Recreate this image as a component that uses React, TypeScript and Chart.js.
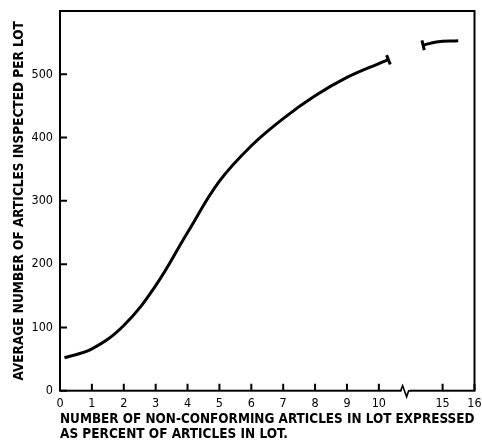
import { useEffect, useRef } from "react";
import { Chart, registerables } from "chart.js";

Chart.register(...registerables);

// Real x values (percent non-conforming) and y values (average articles inspected)
const lowerX = [0.14, 1, 2, 3, 4, 5, 6, 7, 8, 9, 10, 10.75];
const lowerY = [52, 66, 103, 166, 250, 331, 387, 430, 466, 495, 517, 523];
const upperX = [13.47, 14.5, 15.49];
const upperY = [546, 551, 553];

const xTickLabels = [0, 1, 2, 3, 4, 5, 6, 7, 8, 9, 10, 15, 16];
const yTickValues = [0, 100, 200, 300, 400, 500];
const yMax = 600;
const axisBreakAt = 12.1;

const yTitle = "AVERAGE NUMBER OF ARTICLES INSPECTED PER LOT";
const xTitle = ["NUMBER OF NON-CONFORMING ARTICLES IN LOT EXPRESSED", "AS PERCENT OF ARTICLES IN LOT."];

// broken axis: 10..15 compressed to 2 units
const toPos = (v: number) => (v <= 10 ? v : v <= 15 ? 10 + (v - 10) * 0.4 : v - 3);

const FONT = "'DejaVu Sans Condensed', 'DejaVu Sans', sans-serif";

const zeroPad = (s: any) => {
  s.paddingLeft = 0;
  s.paddingRight = 0;
  s.paddingTop = 0;
  s.paddingBottom = 0;
};

const decorations = {
  id: "decorations",
  afterDraw(chart: any) {
    const { ctx, chartArea: a, scales } = chart;
    const x = scales.x;
    const y = scales.y;
    ctx.save();
    ctx.strokeStyle = "#000";
    ctx.lineWidth = 2;
    ctx.lineCap = "butt";
    ctx.strokeRect(a.left, a.top, a.right - a.left, a.bottom - a.top);
    ctx.beginPath();
    x.ticks.forEach((t: any) => {
      const px = x.getPixelForValue(t.value);
      ctx.moveTo(px, a.bottom);
      ctx.lineTo(px, a.bottom - 7);
    });
    y.ticks.forEach((t: any) => {
      const py = y.getPixelForValue(t.value);
      ctx.moveTo(a.left, py);
      ctx.lineTo(a.left + 7, py);
    });
    ctx.stroke();

    // axis break
    const bx = x.getPixelForValue(toPos(axisBreakAt));
    ctx.fillStyle = "#fff";
    ctx.fillRect(bx - 4, a.bottom - 2, 8, 4);
    ctx.beginPath();
    ctx.moveTo(bx - 5, a.bottom);
    ctx.lineTo(bx - 3, a.bottom - 5);
    ctx.lineTo(bx + 1, a.bottom + 6);
    ctx.lineTo(bx + 3, a.bottom);
    ctx.lineTo(bx + 5, a.bottom);
    ctx.lineWidth = 1.6;
    ctx.lineJoin = "miter";
    ctx.stroke();

    // end caps on curve segments
    ctx.lineWidth = 3;
    chart.data.datasets.forEach((ds: any, i: number) => {
      const pts = chart.getDatasetMeta(i).data;
      const n = pts.length;
      const drawCap = (p: any, q: any) => {
        const dx = p.x - q.x;
        const dy = p.y - q.y;
        const len = Math.hypot(dx, dy) || 1;
        const nx = -dy / len;
        const ny = dx / len;
        ctx.beginPath();
        ctx.moveTo(p.x - nx * 5, p.y - ny * 5);
        ctx.lineTo(p.x + nx * 5, p.y + ny * 5);
        ctx.stroke();
      };
      if (ds.capAt === "end") drawCap(pts[n - 1], pts[n - 2]);
      if (ds.capAt === "start") drawCap(pts[0], pts[1]);
    });
    ctx.restore();
  },
};

export default function App() {
  const ref = useRef<HTMLCanvasElement>(null);
  useEffect(() => {
    document.body.style.margin = "0";
    const canvas = ref.current;
    if (!canvas) return;
    const chart = new Chart(canvas, {
      type: "line",
      data: {
        datasets: [
          {
            data: lowerX.map((v, i) => ({ x: toPos(v), y: lowerY[i] })),
            borderColor: "#000",
            borderWidth: 3,
            pointRadius: 0,
            tension: 0.4,
            capAt: "end",
          } as any,
          {
            data: upperX.map((v, i) => ({ x: toPos(v), y: upperY[i] })),
            borderColor: "#000",
            borderWidth: 3,
            pointRadius: 0,
            tension: 0.4,
            capAt: "start",
          } as any,
        ],
      },
      options: {
        animation: false,
        responsive: true,
        maintainAspectRatio: false,
        devicePixelRatio: 1,
        layout: { padding: { top: 11, right: 7.5, left: 0, bottom: 0 } },
        plugins: { legend: { display: false }, tooltip: { enabled: false } },
        scales: {
          x: {
            type: "linear",
            min: 0,
            max: toPos(16),
            afterBuildTicks: (s: any) => {
              s.ticks = xTickLabels.map((v) => ({ value: toPos(v), label: String(v) }));
            },
            afterFit: (s: any) => {
              s.height = 51.3;
              zeroPad(s);
            },
            ticks: {
              autoSkip: false,
              maxRotation: 0,
              padding: 6,
              color: "#000",
              font: { family: FONT, size: 12.5 },
              callback: function (this: any, val: any, idx: number) {
                return String(xTickLabels[idx]);
              },
            },
            grid: { display: false, drawTicks: false },
            border: { display: false },
            title: {
              display: true,
              text: xTitle,
              align: "start",
              color: "#000",
              font: { family: FONT, size: 13.5, weight: "bold", lineHeight: "15px" },
              padding: { top: 0, bottom: 0 },
            },
          },
          y: {
            type: "linear",
            min: 0,
            max: yMax,
            afterBuildTicks: (s: any) => {
              s.ticks = yTickValues.map((v) => ({ value: v }));
            },
            afterFit: (s: any) => {
              s.width = 60;
              zeroPad(s);
            },
            ticks: {
              padding: 7,
              color: "#000",
              font: { family: FONT, size: 12.5 },
              callback: (v: any) => String(v),
            },
            grid: { display: false, drawTicks: false },
            border: { display: false },
            title: {
              display: true,
              text: yTitle,
              color: "#000",
              font: { family: FONT, size: 13.5, weight: "bold", lineHeight: "16px" },
              padding: { top: 11, bottom: 0 },
            },
          },
        },
      },
      plugins: [decorations],
    });
    return () => chart.destroy();
  }, []);
  return (
    <div style={{ width: 482, height: 442, position: "relative", background: "#fff" }}>
      <canvas ref={ref} />
    </div>
  );
}
